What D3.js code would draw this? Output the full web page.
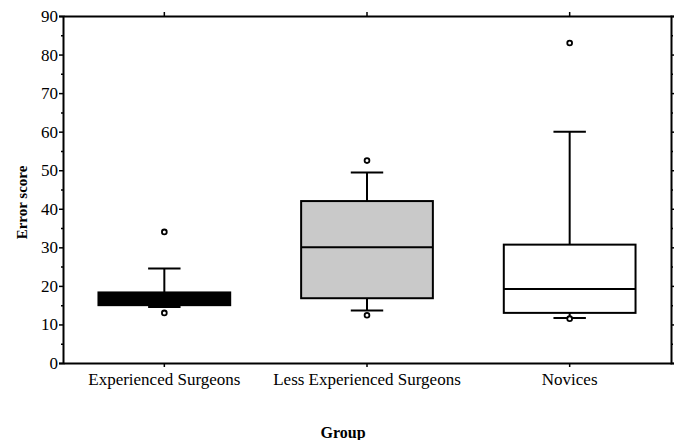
<!DOCTYPE html>
<html>
<head>
<meta charset="utf-8">
<script src="https://d3js.org/d3.v7.min.js"></script>
<style>
  body { margin: 0; background: #fff; }
</style>
</head>
<body>
<div id="chart"></div>
<script>
// box plot values
const groups = ["Experienced Surgeons", "Less Experienced Surgeons", "Novices"];
const q1 = [15, 16.8, 13];
const median = [17, 30, 19.2];
const q3 = [18.3, 42, 30.7];
const whiskerLow = [14.5, 13.6, 11.7];
const whiskerHigh = [24.5, 49.4, 60];
const outliers = [[34, 13], [52.5, 12.4], [83, 11.5]];
const boxFill = ["#000000", "#c9c9c9", "#ffffff"];
const yTicks = [0, 10, 20, 30, 40, 50, 60, 70, 80, 90];

const serif = "'Liberation Serif', 'Times New Roman', serif";
const width = 677, height = 440;
const margin = {top: 16, right: 6, bottom: 77, left: 63};

const svg = d3.select("#chart").append("svg")
    .attr("width", width)
    .attr("height", height);

const x = d3.scaleBand()
    .domain(groups)
    .range([margin.left, width - margin.right])
    .padding(0);

const y = d3.scaleLinear()
    .domain([0, 90])
    .range([height - margin.bottom, margin.top]);

const boxW = x.bandwidth() * 0.65;
const capW = x.bandwidth() * 0.16;

const data = groups.map((g, i) => ({
    group: g, q1: q1[i], med: median[i], q3: q3[i],
    lo: whiskerLow[i], hi: whiskerHigh[i], out: outliers[i], fill: boxFill[i]
}));

const cx = d => x(d.group) + x.bandwidth() / 2;

// whiskers
const g = svg.append("g");
g.selectAll(".whisker")
    .data(data)
    .enter()
    .append("line")
    .attr("x1", cx).attr("x2", cx)
    .attr("y1", d => y(d.lo)).attr("y2", d => y(d.hi))
    .attr("stroke", "#000").attr("stroke-width", 2);

g.selectAll(".capHi")
    .data(data)
    .enter()
    .append("line")
    .attr("x1", d => cx(d) - capW / 2).attr("x2", d => cx(d) + capW / 2)
    .attr("y1", d => y(d.hi)).attr("y2", d => y(d.hi))
    .attr("stroke", "#000").attr("stroke-width", 2);

g.selectAll(".capLo")
    .data(data)
    .enter()
    .append("line")
    .attr("x1", d => cx(d) - capW / 2).attr("x2", d => cx(d) + capW / 2)
    .attr("y1", d => y(d.lo)).attr("y2", d => y(d.lo))
    .attr("stroke", "#000").attr("stroke-width", 2);

// boxes
g.selectAll(".box")
    .data(data)
    .enter()
    .append("rect")
    .attr("x", d => cx(d) - boxW / 2)
    .attr("y", d => y(d.q3))
    .attr("width", boxW)
    .attr("height", d => y(d.q1) - y(d.q3))
    .attr("fill", d => d.fill)
    .attr("stroke", "#000")
    .attr("stroke-width", 2);

g.selectAll(".median")
    .data(data)
    .enter()
    .append("line")
    .attr("x1", d => cx(d) - boxW / 2).attr("x2", d => cx(d) + boxW / 2)
    .attr("y1", d => y(d.med)).attr("y2", d => y(d.med))
    .attr("stroke", "#000").attr("stroke-width", 2);

// outliers
data.forEach(d => {
    g.selectAll(null)
        .data(d.out)
        .enter()
        .append("circle")
        .attr("cx", cx(d))
        .attr("cy", v => y(v))
        .attr("r", 2.4)
        .attr("fill", "#fff")
        .attr("stroke", "#000")
        .attr("stroke-width", 1.8);
});

// axes
const minor = d3.range(5, 90, 10);

const yAxisL = svg.append("g")
    .attr("transform", `translate(${margin.left},0)`)
    .call(d3.axisLeft(y).tickValues(yTicks).tickSize(4).tickPadding(1));
svg.append("g")
    .attr("transform", `translate(${margin.left},0)`)
    .call(d3.axisLeft(y).tickValues(minor).tickSize(2).tickFormat(""))
    .select(".domain").remove();

svg.append("g")
    .attr("transform", `translate(${width - margin.right},0)`)
    .call(d3.axisRight(y).tickValues(yTicks).tickSize(3).tickFormat(""));
svg.append("g")
    .attr("transform", `translate(${width - margin.right},0)`)
    .call(d3.axisRight(y).tickValues(minor).tickSize(2).tickFormat(""))
    .select(".domain").remove();

const xAxisB = svg.append("g")
    .attr("transform", `translate(0,${height - margin.bottom})`)
    .call(d3.axisBottom(x).tickSize(4).tickSizeOuter(0).tickPadding(6));

svg.append("g")
    .attr("transform", `translate(0,${margin.top})`)
    .call(d3.axisTop(x).tickSize(4).tickSizeOuter(0).tickFormat(""));

svg.selectAll(".domain").attr("stroke-width", 2);
svg.selectAll(".tick line").attr("stroke-width", 1.5);
yAxisL.attr("font-family", serif).attr("font-size", 17);
xAxisB.attr("font-family", serif).attr("font-size", 17);

// axis titles
svg.append("text")
    .attr("transform", `translate(27,${(margin.top + height - margin.bottom) / 2 + 13}) rotate(-90)`)
    .attr("text-anchor", "middle")
    .attr("font-family", serif)
    .attr("font-size", 15)
    .attr("font-weight", "bold")
    .text("Error score");

svg.append("text")
    .attr("x", 343)
    .attr("y", 438)
    .attr("text-anchor", "middle")
    .attr("font-family", serif)
    .attr("font-size", 16)
    .attr("font-weight", "bold")
    .text("Group");
</script>
</body>
</html>
